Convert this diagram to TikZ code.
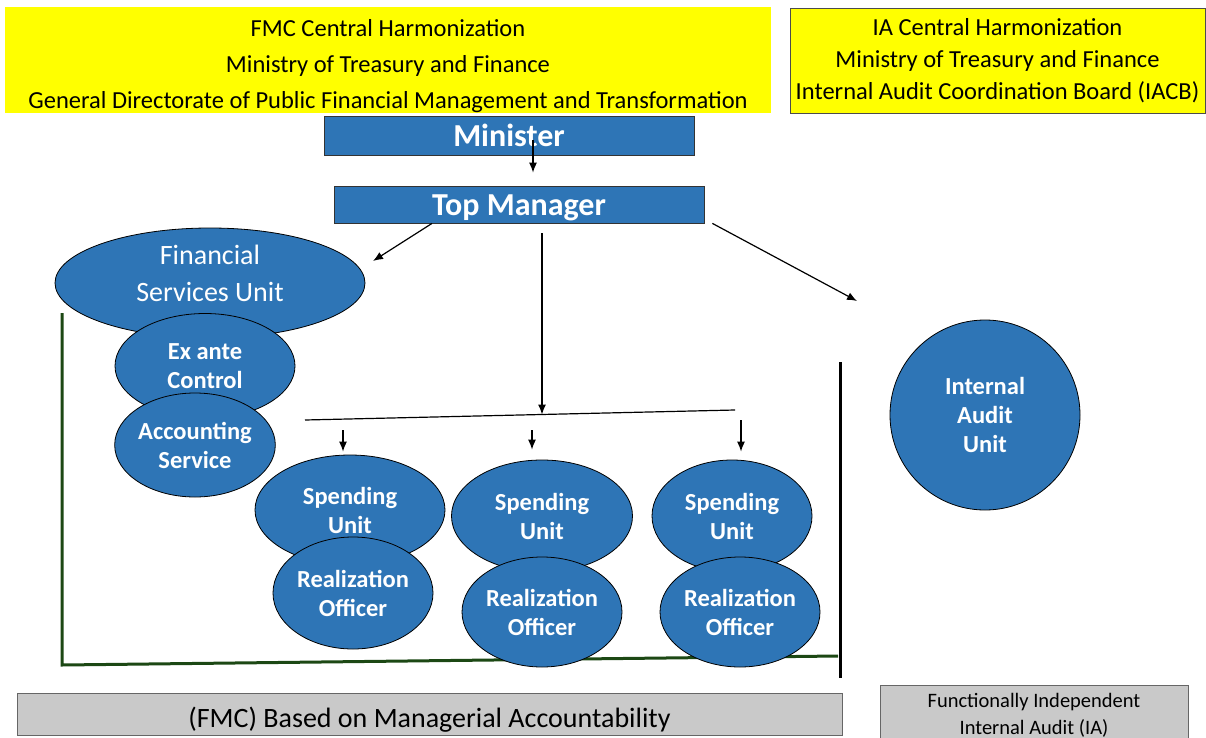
\documentclass[tikz,border=0pt]{standalone}
\usepackage{fontspec}
\setmainfont{Carlito}
\usepackage{tikz}
\usetikzlibrary{shapes,arrows,arrows.meta}
\usetikzlibrary{positioning}
\definecolor{unitblue}{RGB}{46,117,182}
\definecolor{boardyellow}{RGB}{255,255,0}
\definecolor{notegray}{RGB}{201,201,201}
\definecolor{fmcgreen}{RGB}{28,72,20}
\tikzstyle{head} = [fill=boardyellow, rectangle, inner sep=0pt, align=center,
    font=\fontsize{24.5}{32}\selectfont]
\tikzstyle{post} = [draw=black!80, line width=0.8pt, fill=unitblue, rectangle,
    inner sep=0pt, text=white, font=\bfseries\fontsize{32}{34}\selectfont]
\tikzstyle{unit} = [draw=black, line width=0.8pt, fill=unitblue, ellipse, inner sep=0pt,
    text=white, align=center, font=\bfseries\fontsize{24.5}{29}\selectfont]
\tikzstyle{note} = [draw=black!60, line width=0.8pt, fill=notegray, rectangle,
    inner sep=0pt, align=center]

\begin{document}
\begin{tikzpicture}[x=1pt, y=-1pt, >={Latex[length=10pt,width=8pt]}, line width=1.2pt]
    \useasboundingbox (0,0) rectangle (1206,738);

    % Frames of the two sides, kept under the units
    \coordinate (fmcTop) at (62,313);
    \coordinate (fmcCorner) at (62,665);
    \coordinate (fmcEnd) at (838,656);
    \coordinate (iaTop) at (840,362);
    \coordinate (iaBot) at (840,678);
    \draw [fmcgreen, line width=3pt] (fmcTop) -- (fmcCorner) -- (fmcEnd);
    \draw [line width=3pt] (iaTop) -- (iaBot);

    % Harmonization boards on top
    \node [head, minimum width=766pt, minimum height=106pt] (fmc) at (388,60) {};
    \node [align=center, font=\fontsize{24.5}{36}\selectfont] (fmctext) at (388,66)
        {FMC Central Harmonization\\Ministry of Treasury and Finance\\
         General Directorate of Public Financial Management and Transformation};
    \node [head, draw=black!70, line width=0.8pt, minimum width=415pt, minimum height=105pt] (iacb) at (997.5,61)
        {IA Central Harmonization\\Ministry of Treasury and Finance\\Internal Audit Coordination Board (IACB)};

    % Management chain
    \node [post, minimum width=370pt, minimum height=39pt] (minister) at (509,135.5) {Minister};
    \node [post, minimum width=370pt, minimum height=37pt, text height=27pt] (top) at (519,204.5) {Top Manager};

    % Financial services side
    \node [unit, font=\fontsize{28}{37}\selectfont, text depth=20pt, minimum width=310pt, minimum height=110pt] (fsu) at (210,283)
        {Financial\\Services Unit};
    \node [unit, minimum width=180pt, minimum height=105pt] (exante) at (205,366) {Ex ante\\Control};
    \node [unit, minimum width=160pt, minimum height=104pt] (acc) at (195,445) {Accounting\\Service};

    % Spending units with their realization officers
    \node [unit, minimum width=190pt, minimum height=110pt] (su1) at (350,510) {Spending\\Unit};
    \node [unit, minimum width=160pt, minimum height=112pt] (ro1) at (353,593) {Realization\\Officer};
    \node [unit, minimum width=181pt, minimum height=112pt] (su2) at (542,516) {Spending\\Unit};
    \node [unit, minimum width=160pt, minimum height=110pt] (ro2) at (542,612) {Realization\\Officer};
    \node [unit, minimum width=160pt, minimum height=112pt] (su3) at (732,516) {Spending\\Unit};
    \node [unit, minimum width=160pt, minimum height=110pt] (ro3) at (740,612) {Realization\\Officer};

    % Internal audit side
    \node [unit, minimum width=190pt, minimum height=190pt] (iau) at (985,415) {Internal\\Audit\\Unit};

    % Bottom captions
    \node [note, font=\fontsize{28}{30}\selectfont, text height=31pt, minimum width=825pt, minimum height=42pt] (fmcnote) at (429.5,714)
        {(FMC) Based on Managerial Accountability};
    \node [note, font=\fontsize{20.5}{27}\selectfont, minimum width=308pt, minimum height=60pt] (ianote) at (1034,715)
        {Functionally Independent\\Internal Audit (IA)};

    % Connectors
    \coordinate (fsuin) at (373,261);
    \coordinate (iauin) at (857,301);
    \coordinate (barL) at (305,420);
    \coordinate (barR) at (735,410);
    \coordinate (barM) at (542,414.5);
    \coordinate (d1) at (343,430);
    \coordinate (d2) at (532,430);
    \coordinate (d3) at (741,420);

    \draw [->] ([xshift=24pt,yshift=-4.5pt]minister.center) -- ([xshift=14pt,yshift=13pt]top.north);
    \draw [->] ([xshift=-87pt]top.south) -- (fsuin);
    \draw [->] ([xshift=8pt]top.south east) -- (iauin);
    \draw [->] ([xshift=23pt,yshift=-10pt]top.south) -- (barM);
    \draw (barL) -- (barR);
    \draw [->, shorten >=3pt] (d1) -- (d1 |- su1.north);
    \draw [->, shorten >=10pt] (d2) -- (d2 |- su2.north);
    \draw [->, shorten >=8pt] (d3) -- (d3 |- su3.north);
\end{tikzpicture}
\end{document}
